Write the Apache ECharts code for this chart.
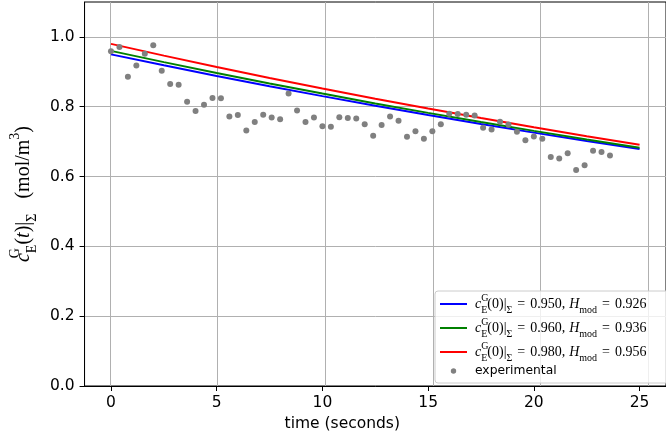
<!DOCTYPE html>
<html><head><meta charset="utf-8">
<script src="https://cdn.jsdelivr.net/npm/echarts@6/dist/echarts.min.js"></script>
<style>html,body{margin:0;padding:0;background:#fff}#c{width:666px;height:440px}</style>
</head><body><div id="c"></div>
<script>
const times = [0,0.4,0.8,1.2,1.6,2,2.4,2.8,3.2,3.6,4,4.4,4.8,5.2,5.6,6,6.4,6.8,7.2,7.6,
  8,8.4,8.8,9.2,9.6,10,10.4,10.8,11.2,11.6,12,12.4,12.8,13.2,13.6,14,14.4,14.8,15.2,15.6,
  16,16.4,16.8,17.2,17.6,18,18.4,18.8,19.2,19.6,20,20.4,20.8,21.2,21.6,22,22.4,22.8,23.2,23.6];
const experimental = [0.959,0.971,0.886,0.918,0.952,0.976,0.903,0.865,0.863,0.814,
  0.788,0.806,0.825,0.824,0.772,0.776,0.732,0.756,0.777,0.769,
  0.764,0.838,0.789,0.756,0.769,0.744,0.743,0.770,0.768,0.766,
  0.750,0.717,0.748,0.772,0.760,0.714,0.730,0.708,0.730,0.750,
  0.780,0.779,0.777,0.775,0.740,0.735,0.757,0.749,0.728,0.704,
  0.715,0.708,0.656,0.652,0.667,0.619,0.632,0.674,0.670,0.660];
const modelTimes = [0,2.5,5,7.5,10,12.5,15,17.5,20,22.5,25];
const modelBlue  = [0.950,0.9186,0.8882,0.8588,0.8304,0.8029,0.7763,0.7506,0.7258,0.7018,0.6786];
const modelGreen = [0.960,0.9278,0.8967,0.8666,0.8376,0.8095,0.7824,0.7562,0.7308,0.7063,0.6826];
const modelRed   = [0.980,0.9464,0.9139,0.8825,0.8522,0.8230,0.7947,0.7674,0.7411,0.7157,0.6911];
const xTicks = [0,5,10,15,20,25];
const yTicks = [0,0.2,0.4,0.6,0.8,1.0];
const legendText = {
  blue:  '{c|c}{sup|G}{sub|E}{n|(0)|}{sub|Σ}{eq|=}{num|0.950,}{i|H}{sub|mod}{eq|=}{n|0.926}',
  green: '{c|c}{sup|G}{sub|E}{n|(0)|}{sub|Σ}{eq|=}{num|0.960,}{i|H}{sub|mod}{eq|=}{n|0.936}',
  red:   '{c|c}{sup|G}{sub|E}{n|(0)|}{sub|Σ}{eq|=}{num|0.980,}{i|H}{sub|mod}{eq|=}{n|0.956}',
  experimental: '{e|experimental}'
};
const yName = '{c|c}{sup|G}{sub|E}{n|(}{i|t}{n|)|}{sub|Σ}{n|   (mol/m}{sup2|3}{n|)}';

const pair = (xs, ys) => xs.map((x, i) => [x, ys[i]]);
const serif = 'Liberation Serif';
const LF = 14, LS = 10;
const YF = 20, YS = 14;
const lineIcon = 'path://M0,0 L0.01,0 L0.01,0.01 Z M0,3.1 L27,3.1 L27,4.9 L0,4.9 Z M27,8 L26.99,8 L26.99,7.99 Z';
const chart = echarts.init(document.getElementById('c'), null, {renderer: 'canvas'});
chart.setOption({
  animation: false,
  backgroundColor: '#fff',
  grid: [
    {left: 83, right: -9, top: 2, bottom: 54, show: true, borderColor: '#000', borderWidth: 1, backgroundColor: 'transparent'},
    {left: 110, right: 18, top: 2, bottom: 54, show: false}
  ],
  xAxis: [{
    type: 'value', min: -1.25, max: 26.25, gridIndex: 0,
    axisLine: {show: true, onZero: false, lineStyle: {color: '#000', width: 1}},
    axisTick: {show: true, customValues: xTicks, length: 5, lineStyle: {color: '#000'}},
    axisLabel: {customValues: xTicks, color: '#000', fontFamily: 'DejaVu Sans', fontSize: 15.5, margin: 9},
    splitLine: {show: false},
    name: 'time (seconds)', nameLocation: 'middle', nameGap: 30,
    nameTextStyle: {color: '#000', fontFamily: 'DejaVu Sans', fontSize: 15.5, padding: [0, 66, 0, 0]}
  }, {
    type: 'value', min: 0, max: 25, interval: 5, gridIndex: 1,
    axisLine: {show: false}, axisTick: {show: false}, axisLabel: {show: false},
    splitLine: {show: true, lineStyle: {color: '#b0b0b0', width: 1}}
  }],
  yAxis: [{
    type: 'value', min: 0, max: 1.1, interval: 0.2, gridIndex: 0,
    axisLine: {show: true, onZero: false, lineStyle: {color: '#000', width: 1}},
    axisTick: {show: true, customValues: yTicks, length: 5, lineStyle: {color: '#000'}},
    axisLabel: {customValues: yTicks, color: '#000', fontFamily: 'DejaVu Sans', fontSize: 15.5, margin: 10,
      formatter: v => v.toFixed(1)},
    splitLine: {show: true, lineStyle: {color: '#b0b0b0', width: 1}},
    name: yName, nameLocation: 'middle', nameGap: 41, nameRotate: 90,
    nameTextStyle: {
      color: '#000', fontFamily: serif, fontSize: YF,
      rich: {
        c: {fontFamily: serif, fontStyle: 'italic', fontSize: YF, lineHeight: 31},
        i: {fontFamily: serif, fontStyle: 'italic', fontSize: YF, lineHeight: 31},
        n: {fontFamily: serif, fontSize: YF, lineHeight: 31},
        sup: {fontFamily: serif, fontSize: YS, lineHeight: 14, verticalAlign: 'top', width: 0},
        sub: {fontFamily: serif, fontSize: YS, lineHeight: 14, verticalAlign: 'bottom'},
        sup2: {fontFamily: serif, fontSize: YS, lineHeight: 14, verticalAlign: 'top'}
      }
    }
  }, {
    type: 'value', min: 0, max: 1.1, gridIndex: 1, show: false
  }],
  legend: {
    orient: 'vertical', left: 435, top: 291,
    itemWidth: 27, itemHeight: 8, itemGap: 2,
    padding: [2, 40, 6, 5],
    backgroundColor: 'rgba(255,255,255,0.8)', borderColor: '#cccccc', borderWidth: 1, borderRadius: 3,
    data: [
      {name: 'blue', icon: lineIcon}, {name: 'green', icon: lineIcon}, {name: 'red', icon: lineIcon},
      {name: 'experimental', icon: 'circle', itemStyle: {borderColor: '#fff', borderWidth: 2.6}}
    ],
    formatter: name => legendText[name],
    textStyle: {
      color: '#000', fontFamily: serif, fontSize: LF,
      rich: {
        c: {fontFamily: serif, fontStyle: 'italic', fontSize: LF, lineHeight: 22, padding: [0, 0, 0, 3]},
        i: {fontFamily: serif, fontStyle: 'italic', fontSize: LF, lineHeight: 22},
        n: {fontFamily: serif, fontSize: LF, lineHeight: 22},
        eq: {fontFamily: serif, fontSize: LF, lineHeight: 22, padding: [0, 5, 0, 5]},
        num: {fontFamily: serif, fontSize: LF, lineHeight: 22, padding: [0, 4, 0, 0]},
        sup: {fontFamily: serif, fontSize: LS, lineHeight: 9, verticalAlign: 'top', width: 0},
        sub: {fontFamily: serif, fontSize: LS, lineHeight: 9, verticalAlign: 'bottom'},
        e: {fontFamily: 'DejaVu Sans', fontSize: 12.3, lineHeight: 8, padding: [0, 0, 0, 3]}
      }
    }
  },
  series: [
    {name: 'blue', type: 'line', data: pair(modelTimes, modelBlue), symbol: 'none', z: 2,
      lineStyle: {color: '#0000ff', width: 2}, itemStyle: {color: '#0000ff'}},
    {name: 'green', type: 'line', data: pair(modelTimes, modelGreen), symbol: 'none', z: 2,
      lineStyle: {color: '#008000', width: 2}, itemStyle: {color: '#008000'}},
    {name: 'red', type: 'line', data: pair(modelTimes, modelRed), symbol: 'none', z: 2,
      lineStyle: {color: '#ff0000', width: 2}, itemStyle: {color: '#ff0000'}},
    {name: 'experimental', type: 'scatter', data: pair(times, experimental), symbol: 'circle', symbolSize: 6, z: 3,
      itemStyle: {color: '#808080', opacity: 1}}
  ]
});
</script>
</body></html>
